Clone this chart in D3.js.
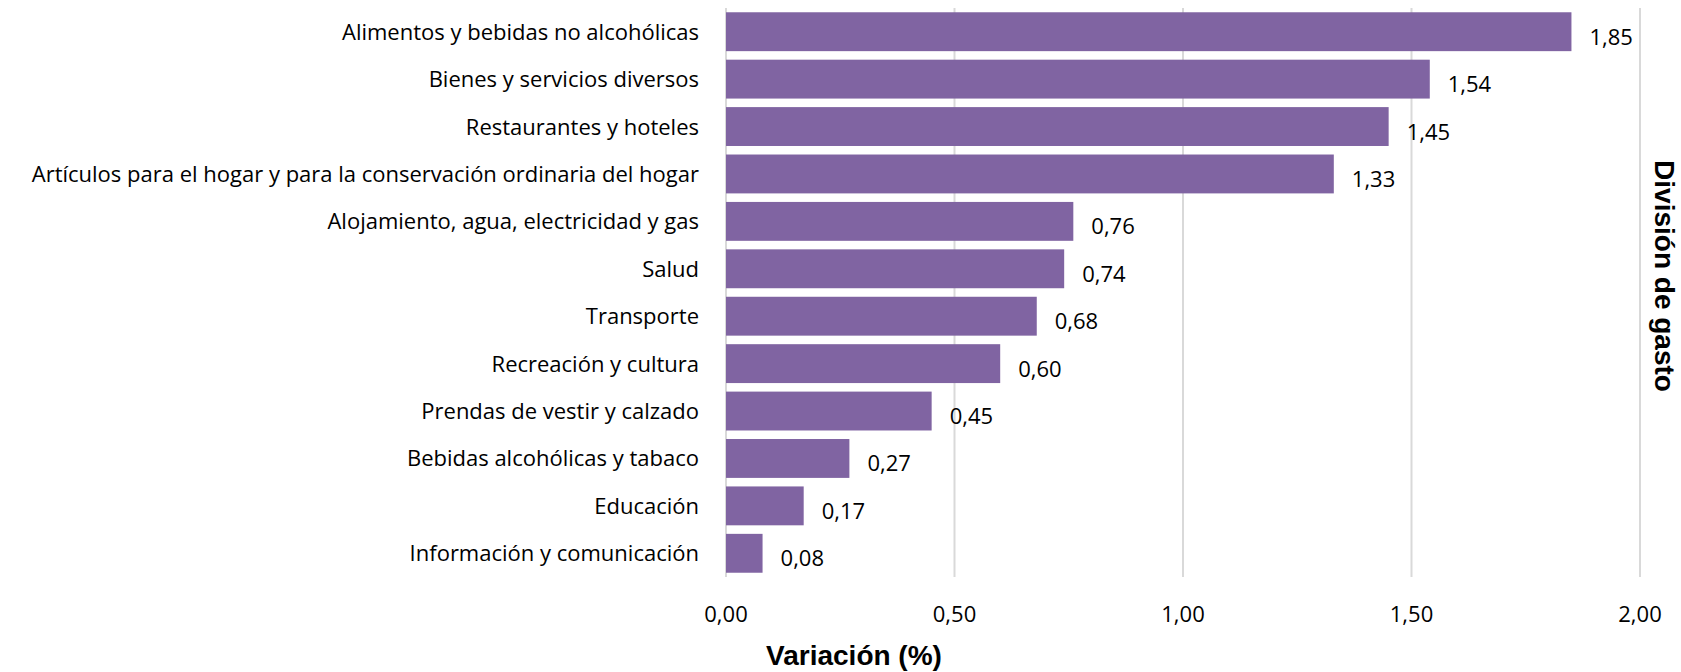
<!DOCTYPE html>
<html>
<head>
<meta charset="utf-8">
<script src="https://cdn.jsdelivr.net/npm/d3@7"></script>
<style>
  html, body { margin: 0; padding: 0; background: #fff; }
  svg { display: block; }
</style>
</head>
<body>
<svg id="chart" width="1681" height="672"></svg>
<script>
const categories = [
  "Alimentos y bebidas no alcohólicas",
  "Bienes y servicios diversos",
  "Restaurantes y hoteles",
  "Artículos para el hogar y para la conservación ordinaria del hogar",
  "Alojamiento, agua, electricidad y gas",
  "Salud",
  "Transporte",
  "Recreación y cultura",
  "Prendas de vestir y calzado",
  "Bebidas alcohólicas y tabaco",
  "Educación",
  "Información y comunicación"
];
const values = [1.85, 1.54, 1.45, 1.33, 0.76, 0.74, 0.68, 0.60, 0.45, 0.27, 0.17, 0.08];
const tickValues = [0, 0.5, 1.0, 1.5, 2.0];
const xTitle = "Variación (%)";
const yTitle = "División de gasto";

const svg = d3.select("#chart");
const plotLeft = 726, plotRight = 1640, plotTop = 8, plotBottom = 577;
const labelFont = "'Open Sans', 'Noto Sans', sans-serif";
const fmt = v => d3.format(".2f")(v).replace(".", ",");

const x = d3.scaleLinear().domain([0, 2]).range([plotLeft, plotRight]);
const y = d3.scaleBand().domain(categories).range([plotTop, plotBottom]).paddingInner(0.18).paddingOuter(0.09);

// gridlines
svg.append("g").selectAll("line").data(tickValues).join("line")
  .attr("x1", d => x(d)).attr("x2", d => x(d))
  .attr("y1", plotTop).attr("y2", plotBottom)
  .attr("stroke", "#d9d9d9").attr("stroke-width", 2);

// bars
svg.append("g").selectAll("rect").data(values).join("rect")
  .attr("x", x(0)).attr("y", (d, i) => y(categories[i]))
  .attr("width", d => x(d) - x(0)).attr("height", y.bandwidth())
  .attr("fill", "#8064a2");

// value labels
svg.append("g").selectAll("text").data(values).join("text")
  .attr("x", d => x(d) + 18)
  .attr("y", (d, i) => y(categories[i]) + y.bandwidth() / 2 + 13)
  .attr("font-family", labelFont).attr("font-size", 22).attr("fill", "#000")
  .text(d => fmt(d));

// category labels
svg.append("g").selectAll("text").data(categories).join("text")
  .attr("x", 699)
  .attr("y", d => y(d) + y.bandwidth() / 2 + 8)
  .attr("text-anchor", "end")
  .attr("font-family", labelFont).attr("font-size", 22).attr("fill", "#000")
  .text(d => d);

// x tick labels
svg.append("g").selectAll("text").data(tickValues).join("text")
  .attr("x", d => x(d)).attr("y", 622)
  .attr("text-anchor", "middle")
  .attr("font-family", labelFont).attr("font-size", 22).attr("fill", "#000")
  .text(d => fmt(d));

// axis titles
svg.append("text")
  .attr("x", 854).attr("y", 665)
  .attr("text-anchor", "middle")
  .attr("font-family", "'Liberation Sans', Arial, sans-serif").attr("font-weight", "bold")
  .attr("font-size", 28).attr("fill", "#000")
  .text(xTitle);

svg.append("text")
  .attr("transform", "translate(1655,276) rotate(90)")
  .attr("text-anchor", "middle")
  .attr("font-family", "'Liberation Sans', Arial, sans-serif").attr("font-weight", "bold")
  .attr("font-size", 28).attr("fill", "#000")
  .text(yTitle);
</script>
</body>
</html>
